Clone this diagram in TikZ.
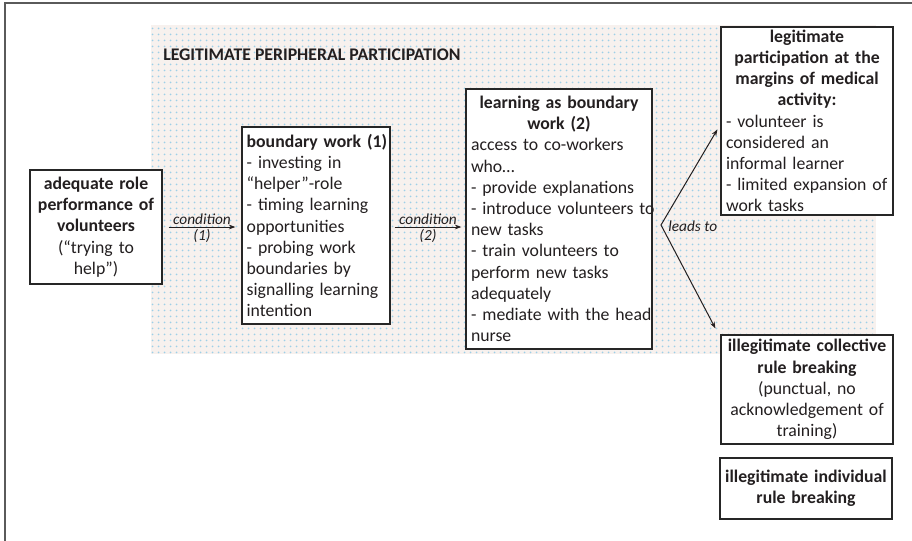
\documentclass[tikz,border=0pt]{standalone}
\usepackage{fontspec}
\setmainfont{Carlito}
\usetikzlibrary{arrows.meta,patterns,calc}
\definecolor{txt}{HTML}{231F20}
\definecolor{shadebg}{HTML}{F7F1EE}
\definecolor{dotc}{HTML}{9DCFE8}
\definecolor{framec}{HTML}{5A5A5A}
\newcommand\nb[1]{\mbox{#1}}
\newcommand\cb[1]{\makebox[\linewidth][c]{#1}}
\pgfdeclarepatternformonly{lppdots}{\pgfpointorigin}{\pgfpoint{4.5pt}{4.5pt}}{\pgfpoint{4.5pt}{4.5pt}}{\pgfpathcircle{\pgfpoint{2.25pt}{2.25pt}}{0.85pt}\pgfusepath{fill}}
\begin{document}
\begin{tikzpicture}[x=0.75pt,y=-0.75pt,
  box/.style={draw=black!85, line width=0.9pt, fill=white, inner xsep=3.75pt, inner ysep=2pt,
    font=\fontsize{13.3}{15.9}\selectfont, text=txt},
  arr/.style={-{Stealth[length=5pt,width=3.6pt]}, line width=0.75pt, draw=txt},
  arrboth/.style={{Stealth[length=5pt,width=3.6pt]}-{Stealth[length=5pt,width=3.6pt]}, line width=0.75pt, draw=txt},
  lbl/.style={font=\fontsize{11.5}{13}\selectfont\itshape, text=txt, inner sep=1.5pt},
  ttl/.style={font=\fontsize{13.3}{15.9}\selectfont\bfseries, text=txt, inner sep=0pt}]
\useasboundingbox (0,0) rectangle (912,540);
\fill[white] (0,0) rectangle (912,540);
% outer frame
\draw[framec, line width=1.5pt] (5,550) -- (5,3) -- (920,3);
% shaded region
\fill[shadebg] (151,25) rectangle (876,354);
\fill[pattern=lppdots, pattern color=dotc] (151,25) rectangle (876,354);
\node[ttl, anchor=west] (title) at (163,55) {LEGITIMATE PERIPHERAL PARTICIPATION};
% boxes
\node[box, minimum width=99pt, minimum height=85.5pt, text width=91.5pt, align=center] (A) at (96,227)
  {\textbf{adequate role}\\\textbf{performance of}\\\textbf{volunteers}\\(“trying to\\help”)};
\node[box, minimum width=111pt, minimum height=147.75pt, text width=104pt, inner xsep=3.5pt, align=left] (B) at (316,225.5)
  {\nb{\textbf{boundary work (1)}}\\- investing in\\“helper”-role\\- timing learning\\opportunities\\- probing work\\boundaries by\\\nb{signalling learning}\\intention};
\node[box, minimum width=139.5pt, minimum height=195pt, text width=132pt, align=left] (C) at (559,219)
  {\cb{\bfseries learning as boundary}\\\cb{\bfseries work (2)}\\access to co-workers\\who…\\\nb{- provide explanations}\\\nb{- introduce volunteers to}\\new tasks\\- train volunteers to\\perform new tasks\\adequately\\\nb{- mediate with the head}\\nurse};
\node[box, minimum width=129pt, minimum height=141pt, text width=121.5pt, align=left] (D) at (807,121)
  {\cb{\bfseries legitimate}\\\cb{\bfseries participation at the}\\\cb{\bfseries margins of medical}\\\cb{\bfseries activity:}\\- volunteer is\\considered an\\informal learner\\\nb{- limited expansion of}\\work tasks};
\node[box, minimum width=129pt, minimum height=81.75pt, text width=121.5pt, align=left] (E) at (807,389.5)
  {\cb{\bfseries illegitimate collective}\\\cb{\bfseries rule breaking}\\\cb{(punctual, no}\\\cb{acknowledgement of}\\\cb{training)}};
\node[box, minimum width=129pt, minimum height=45.75pt, text width=121.5pt, align=left] (F) at (806,488.5)
  {\cb{\bfseries illegitimate individual}\\\cb{\bfseries rule breaking}};
% connectors
\draw[arr, shorten <=4.5pt, shorten >=4.5pt] (A.east) -- (B.west |- A.east)
  node[midway, above, lbl] {condition} node[midway, below, lbl] {(1)};
\draw[arr, shorten <=3pt, shorten >=3pt] (B.east |- A.east) -- (C.west |- A.east)
  node[midway, above, lbl] {condition} node[midway, below, lbl] {(2)};
\coordinate (v) at (661,225);
\coordinate (Dtip) at ($(D.north west)+(-3,103)$);
\coordinate (Etip) at ($(E.north west)+(-5,-6)$);
\draw[arrboth] (Dtip) -- (v) -- (Etip);
\node[lbl, anchor=west, inner sep=0pt] (leads) at (668,226) {leads to};
\end{tikzpicture}
\end{document}
